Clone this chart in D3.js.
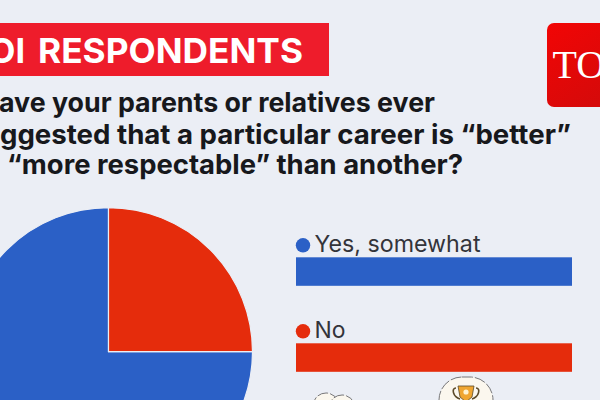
<!DOCTYPE html>
<html>
<head>
<meta charset="utf-8">
<script src="https://cdn.jsdelivr.net/npm/d3@7"></script>
<style>
  html, body { margin: 0; padding: 0; background: #ebeef5; overflow: hidden; }
  text { font-family: Inter, "Open Sans", sans-serif; }
</style>
</head>
<body>
<script>
const categories = ['Yes, somewhat', 'No'];
const pieValues = [75, 25];
const barValues = [100, 100];
const colors = ['#2b60c6', '#e52c0c'];
const questionLines = [
  'ave your parents or relatives ever',
  'ggested that a particular career is “better”',
  '“more respectable” than another?'
];
const questionX = [-1, 0, 7];
const questionY = [112, 143.5, 173.5];
const questionEnd = [435, 571, 463];

const svg = d3.select('body').append('svg')
  .attr('width', 600).attr('height', 400)
  .attr('xmlns', 'http://www.w3.org/2000/svg');

svg.append('rect').attr('width', 600).attr('height', 400).attr('fill', '#ebeef5');

// banner
svg.append('rect').attr('x', 0).attr('y', 23).attr('width', 329).attr('height', 53).attr('fill', '#ee1c2b');
svg.append('text').attr('x', -11).attr('y', 62.5)
  .attr('font-size', 34).attr('font-weight', 700).attr('fill', '#fff')
  .attr('textLength', 36).attr('lengthAdjust', 'spacingAndGlyphs')
  .text('OI');
svg.append('text').attr('x', 38).attr('y', 62.5)
  .attr('font-size', 34).attr('font-weight', 700).attr('fill', '#fff')
  .attr('textLength', 265).attr('lengthAdjust', 'spacingAndGlyphs')
  .text('RESPONDENTS');

// logo
const grad = svg.append('defs').append('linearGradient').attr('id', 'logo')
  .attr('x1', 0).attr('y1', 0).attr('x2', 0.6).attr('y2', 1);
grad.append('stop').attr('offset', 0).attr('stop-color', '#f20505');
grad.append('stop').attr('offset', 1).attr('stop-color', '#d60a0a');
svg.append('rect').attr('x', 547).attr('y', 23).attr('width', 70).attr('height', 84).attr('rx', 7).attr('fill', 'url(#logo)');
svg.append('text').attr('x', 552.5).attr('y', 78)
  .style('font-family', '"Liberation Serif", serif')
  .attr('font-size', 40).attr('fill', '#fff').text('TO');

// question
svg.selectAll('text.question').data(questionLines).join('text')
  .attr('class', 'question')
  .attr('x', (d, i) => questionX[i])
  .attr('y', (d, i) => questionY[i])
  .attr('font-size', 27).attr('font-weight', 700).attr('fill', '#17181c')
  .attr('textLength', (d, i) => questionEnd[i] - questionX[i])
  .attr('lengthAdjust', 'spacingAndGlyphs')
  .text(d => d);

// pie
const pie = d3.pie().sort(null).startAngle(Math.PI / 2).endAngle(Math.PI * 2.5);
const arc = d3.arc().innerRadius(0).outerRadius(144);
svg.append('g').attr('transform', 'translate(108.5,351.7)')
  .selectAll('path').data(pie(pieValues)).join('path')
  .attr('d', arc)
  .attr('fill', (d, i) => colors[i])
  .attr('stroke', '#ebeef5').attr('stroke-width', 1.2);

// legend bars
const x = d3.scaleLinear().domain([0, 100]).range([296, 572]);
const y = d3.scaleOrdinal().domain(categories).range([257.3, 343.3]);
const rows = svg.selectAll('g.row').data(categories).join('g').attr('class', 'row');
rows.append('rect')
  .attr('x', x(0)).attr('y', d => y(d))
  .attr('width', (d, i) => x(barValues[i]) - x(0)).attr('height', 28.5)
  .attr('fill', (d, i) => colors[i]);
rows.append('circle')
  .attr('cx', 303).attr('cy', d => y(d) - 12).attr('r', 7.2)
  .attr('fill', (d, i) => colors[i]);
rows.append('text')
  .attr('x', 314.5).attr('y', d => y(d) - 5.2)
  .attr('font-size', 23).attr('font-weight', 400).attr('fill', '#33343a')
  .attr('textLength', (d, i) => i === 0 ? 166 : 31)
  .attr('lengthAdjust', 'spacingAndGlyphs')
  .text(d => d);

// sticker icons, cut off at the bottom edge
const badge = svg.append('g').attr('fill', '#fbf7ee').attr('stroke', '#77777a').attr('stroke-width', 1).attr('stroke-dasharray', '11 2');
badge.append('rect').attr('x', 439).attr('y', 377).attr('width', 54).attr('height', 50).attr('rx', 23);
badge.append('circle').attr('cx', 326).attr('cy', 406).attr('r', 13);
badge.append('circle').attr('cx', 342).attr('cy', 408).attr('r', 13);
const cup = svg.append('g');
cup.append('path').attr('d', 'M456 388 c-5 0 -3 9 4 11 M476 388 c5 0 3 9 -4 11')
  .attr('fill', 'none').attr('stroke', '#5b4a2a').attr('stroke-width', 1.6);
cup.append('path').attr('d', 'M458 386 H474 L472 397 L466 402 L460 397 Z')
  .attr('fill', '#f0a630').attr('stroke', '#5b4a2a').attr('stroke-width', 0.8);
cup.append('circle').attr('cx', 466).attr('cy', 392).attr('r', 2.6).attr('fill', '#fff3d0');
</script>
</body>
</html>
